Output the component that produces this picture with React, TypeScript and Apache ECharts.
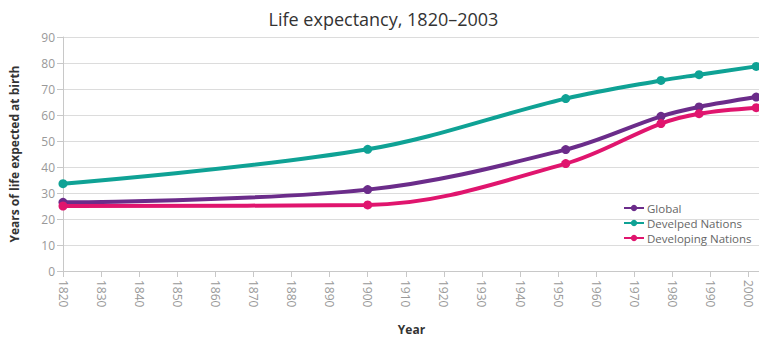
import React, { useEffect, useRef } from "react";
import * as echarts from "echarts";

const years = [1820, 1900, 1952, 1977, 1987, 2002];
const globalVals = [26.4, 31.3, 46.7, 59.5, 63.1, 66.9];
const developedVals = [33.6, 46.8, 66.3, 73.3, 75.5, 78.7];
const developingVals = [25.0, 25.4, 41.3, 56.7, 60.5, 62.8];

const seriesNames = ["Global", "Develped Nations", "Developing Nations"];
const colors = ["#6b2c8a", "#0fa295", "#e0156e"];

const toPairs = (vals: number[]) => years.map((y, i) => [y, vals[i]]);

export default function App() {
  const ref = useRef<HTMLDivElement>(null);
  useEffect(() => {
    const chart = echarts.init(ref.current!, null, { renderer: "svg" });
    const font = "'Open Sans', 'Noto Sans', sans-serif";
    const allVals = [globalVals, developedVals, developingVals];
    chart.setOption({
      animation: false,
      textStyle: { fontFamily: font },
      title: {
        text: "Life expectancy, 1820–2003",
        left: "center",
        top: 5,
        textStyle: { fontSize: 18, fontWeight: "normal", color: "#333", fontFamily: font },
      },
      grid: { left: 61, right: 7, top: 37, bottom: 79 },
      legend: {
        orient: "vertical",
        left: 618,
        top: 197,
        itemGap: 3,
        itemWidth: 20,
        itemHeight: 8,
        textStyle: { fontSize: 11.5, lineHeight: 12, color: "#666", fontFamily: font, padding: [0, 0, 0, -2] },
        data: seriesNames,
      },
      xAxis: {
        type: "value",
        min: 1820,
        max: 2003,
        interval: 10,
        name: "Year",
        nameLocation: "middle",
        nameGap: 52,
        nameTextStyle: { fontWeight: "bold", fontSize: 12, color: "#333" },
        axisLine: { lineStyle: { color: "#c8c8c8" } },
        axisTick: { lineStyle: { color: "#c8c8c8" }, length: 6 },
        axisLabel: {
          rotate: -90,
          color: "#999",
          fontSize: 12,
          margin: 9,
          showMaxLabel: false,
          formatter: (v: number) => (v % 10 === 0 ? String(v) : ""),
        },
        splitLine: { show: false },
      },
      yAxis: {
        type: "value",
        min: 0,
        max: 90,
        interval: 10,
        name: "Years of life expected at birth",
        nameLocation: "middle",
        nameGap: 43,
        nameTextStyle: { fontWeight: "bold", fontSize: 12, color: "#333" },
        axisLine: { show: true, lineStyle: { color: "#c8c8c8" } },
        axisTick: { show: true, lineStyle: { color: "#c8c8c8" }, length: 6 },
        axisLabel: { color: "#999", fontSize: 12, margin: 8 },
        splitLine: { lineStyle: { color: "#dcdcdc" } },
      },
      series: seriesNames.map((name, i) => ({
        name,
        type: "line",
        smooth: 0.35,
        data: toPairs(allVals[i]),
        symbol: "circle",
        symbolSize: 9,
        itemStyle: { color: colors[i] },
        lineStyle: { color: colors[i], width: 4 },
        z: i === 1 ? 2 : i === 0 ? 3 : 4,
      })),
    });
    return () => chart.dispose();
  }, []);
  return <div ref={ref} style={{ width: 767, height: 350, margin: -8 }} />;
}
